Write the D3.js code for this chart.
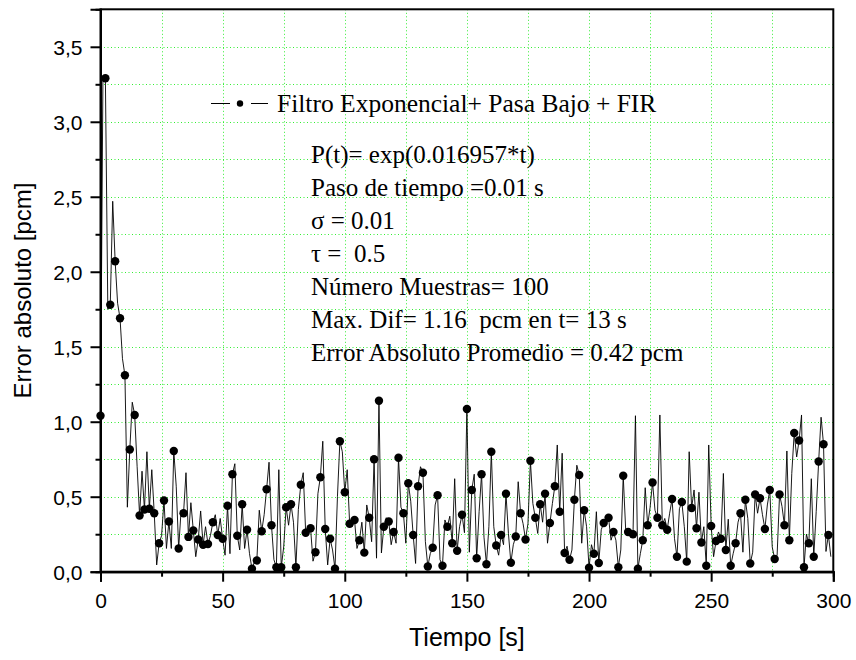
<!DOCTYPE html>
<html><head><meta charset="utf-8">
<script src="https://cdn.jsdelivr.net/npm/d3@7"></script>
<style>body{margin:0;background:#fff}</style>
</head><body><svg id="c" width="856" height="660"></svg>
<script>
// values at t = 0,2,4,...,298 s (drawn with markers)
const dotValues = [
 1.04, 3.29, 1.78, 2.07, 1.69, 1.31, 0.815, 1.045, 0.375, 0.415, 0.42, 0.39, 0.19, 0.475, 0.335, 0.805, 0.155, 0.39, 0.232, 0.275, 0.215, 0.18, 0.185, 0.33, 0.245,
 0.22, 0.44, 0.65, 0.24, 0.45, 0.28, 0.02, 0.075, 0.27, 0.55, 0.31, 0.03, 0.03, 0.43, 0.45, 0.03, 0.58, 0.26, 0.29, 0.13, 0.63, 0.285, 0.22, 0.02, 0.87,
 0.53, 0.32, 0.345, 0.21, 0.127, 0.36, 0.75, 1.14, 0.30, 0.335, 0.265, 0.76, 0.39, 0.59, 0.245, 0.57, 0.66, 0.035, 0.16, 0.51, 0.04, 0.30, 0.19, 0.14,
 0.38, 1.085, 0.545, 0.09, 0.65, 0.05, 0.80, 0.175, 0.245, 0.52, 0.06, 0.235, 0.39, 0.215, 0.74, 0.36, 0.45, 0.52, 0.325, 0.57, 0.40, 0.125, 0.08, 0.48, 0.645,
 0.41, 0.027, 0.12, 0.058, 0.325, 0.36, 0.265, 0.03, 0.64, 0.265, 0.25, 0.02, 0.21, 0.31, 0.595, 0.36, 0.31, 0.28, 0.485, 0.10, 0.465, 0.067, 0.425, 0.29,
 0.195, 0.04, 0.305, 0.205, 0.22, 0.145, 0.04, 0.19, 0.39, 0.48, 0.055, 0.515, 0.49, 0.285, 0.545, 0.085, 0.515, 0.31, 0.21, 0.925, 0.875, 0.03, 0.19, 0.10, 0.735, 0.85, 0.245
];
// values at t = 1,3,5,...,299 s (line only)
const midValues = [
 3.30, 1.75, 2.47, 1.79, 1.42, 0.43, 1.13, 0.70, 0.67, 0.80, 0.68, 0.045, 0.24, 0.155, 0.155, 0.57, 0.41, 0.66, 0.46, 0.10, 0.405, 0.30, 0.24, 0.38, 0.355,
 0.11, 0.12, 0.72, 0.145, 0.155, 0.12, 0.065, 0.41, 0.38, 0.73, 0.08, 0.68, 0.165, 0.31, 0.33, 0.415, 0.66, 0.30, 0.07, 0.52, 0.87, 0.045, 0.145, 0.50,
 0.80, 0.68, 0.30, 0.155, 0.33, 0.445, 0.20, 0.09, 0.125, 0.36, 0.18, 0.19, 0.43, 0.19, 0.47, 0.055, 0.70, 0.20, 0.12, 0.445, 0.08, 0.345, 0.37, 0.62,
 0.30, 0.26, 0.13, 0.65, 0.40, 0.23, 0.30, 0.30, 0.11, 0.18, 0.255, 0.18, 0.60, 0.32, 0.32, 0.455, 0.255, 0.33, 0.19, 0.455, 0.845, 0.79, 0.17, 0.145, 0.71,
 0.19, 0.30, 0.18, 0.40, 0.28, 0.32, 0.21, 0.21, 0.145, 0.28, 0.23, 1.04, 0.12, 0.56, 0.43, 0.41, 1.045, 0.355, 0.39, 0.22, 0.42, 0.30, 0.80, 0.545,
 0.53, 0.30, 0.845, 0.10, 0.265, 0.655, 0.35, 0.12, 0.33, 0.13, 0.355, 0.13, 0.39, 0.38, 0.445, 0.165, 0.11, 0.435, 0.805, 0.655, 0.765, 1.045, 0.25, 0.62, 0.40, 1.03, 0.135, 0.10
];
const xMajorTicks = [0, 50, 100, 150, 200, 250, 300];
const xMinorTicks = [25, 75, 125, 175, 225, 275];
const yMajorTicks = [0, 0.5, 1.0, 1.5, 2.0, 2.5, 3.0, 3.5];
const yMinorTicks = [0.25, 0.75, 1.25, 1.75, 2.25, 2.75, 3.25];
const yTickLabels = ["0,0", "0,5", "1,0", "1,5", "2,0", "2,5", "3,0", "3,5"];
const xTitle = "Tiempo [s]";
const yTitle = "Error absoluto [pcm]";
const legendLabel = "Filtro Exponencial+ Pasa Bajo + FIR";
const infoLines = [
 "P(t)= exp(0.016957*t)",
 "Paso de tiempo =0.01 s",
 "\u03c3 = 0.01",
 "\u03c4 =  0.5",
 "N\u00famero Muestras= 100",
 "Max. Dif= 1.16  pcm en t= 13 s",
 "Error Absoluto Promedio = 0.42 pcm"
];

const L = 100.5, R = 833.3, T = 9.3, B = 571.7;
const x = d3.scaleLinear().domain([0, 300]).range([L, R]);
const y = d3.scaleLinear().domain([0, 3.75]).range([B, T]);
const svg = d3.select("#c");
const sans = "'Liberation Sans', Arial, sans-serif";
const serif = "'Liberation Serif', 'Times New Roman', serif";

// series
const lineData = [];
dotValues.forEach((v, i) => {
  lineData.push({t: 2 * i, v: v});
  if (i < midValues.length) lineData.push({t: 2 * i + 1, v: midValues[i]});
});
const dotData = dotValues.map((v, i) => ({t: 2 * i, v: v}));

// grid
const grid = svg.append("g").attr("stroke", "#33ee33").attr("stroke-width", 1).attr("stroke-dasharray", "1,2.5");
xMajorTicks.concat(xMinorTicks).filter(t => t > 0 && t < 300).forEach(t => {
  grid.append("line").attr("x1", Math.round(x(t)) + 0.5).attr("x2", Math.round(x(t)) + 0.5).attr("y1", T).attr("y2", B);
});
yMajorTicks.concat(yMinorTicks).filter(v => v > 0).forEach(v => {
  grid.append("line").attr("y1", Math.round(y(v)) + 0.5).attr("y2", Math.round(y(v)) + 0.5).attr("x1", L).attr("x2", R);
});

// data
svg.append("path").datum(lineData)
  .attr("fill", "none").attr("stroke", "#000").attr("stroke-width", 0.9)
  .attr("d", d3.line().x(d => x(d.t)).y(d => y(d.v)));
svg.append("g").selectAll("circle").data(dotData).join("circle")
  .attr("cx", d => x(d.t)).attr("cy", d => y(d.v)).attr("r", 4.2).attr("fill", "#000");

// frame
svg.append("rect").attr("x", L).attr("y", T).attr("width", R - L).attr("height", B - T)
  .attr("fill", "none").attr("stroke", "#000").attr("stroke-width", 2);

// axes
const xAxis = svg.append("g").attr("transform", `translate(0,${B})`)
  .call(d3.axisBottom(x).tickValues(xMajorTicks).tickSize(10).tickFormat(d => d));
const xAxisMinor = svg.append("g").attr("transform", `translate(0,${B})`)
  .call(d3.axisBottom(x).tickValues(xMinorTicks).tickSize(5).tickFormat(""));
const yAxis = svg.append("g").attr("transform", `translate(${L},0)`)
  .call(d3.axisLeft(y).tickValues(yMajorTicks).tickSize(10).tickFormat((d, i) => yTickLabels[i]));
const yAxisMinor = svg.append("g").attr("transform", `translate(${L},0)`)
  .call(d3.axisLeft(y).tickValues(yMinorTicks).tickSize(5).tickFormat(""));
[xAxis, xAxisMinor, yAxis, yAxisMinor].forEach(g => {
  g.select(".domain").attr("stroke", "#000").attr("stroke-width", 2);
  g.selectAll(".tick line").attr("stroke", "#000").attr("stroke-width", 2);
  g.selectAll(".tick text").attr("fill", "#000").attr("font-family", sans).attr("font-size", 21);
});
xAxis.selectAll(".tick text").attr("y", 21).attr("dy", "0.71em");
yAxis.selectAll(".tick text").attr("x", -18).attr("dy", "0.35em");

// titles
svg.append("text").attr("x", (L + R) / 2).attr("y", 646).attr("text-anchor", "middle")
  .attr("font-family", sans).attr("font-size", 25).text(xTitle);
svg.append("text").attr("transform", `translate(31,${(T + B) / 2}) rotate(-90)`).attr("text-anchor", "middle")
  .attr("font-family", sans).attr("font-size", 24).text(yTitle);

// legend
const lg = svg.append("g");
lg.append("line").attr("x1", 211).attr("x2", 230).attr("y1", 103.5).attr("y2", 103.5).attr("stroke", "#000").attr("stroke-width", 1);
lg.append("line").attr("x1", 251).attr("x2", 268).attr("y1", 103.5).attr("y2", 103.5).attr("stroke", "#000").attr("stroke-width", 1);
lg.append("circle").attr("cx", 240).attr("cy", 103.5).attr("r", 3.2).attr("fill", "#000");
lg.append("text").attr("x", 277).attr("y", 112).attr("font-family", serif).attr("font-size", 25.5).text(legendLabel);

// annotation
svg.append("g").selectAll("text").data(infoLines).join("text")
  .attr("x", 311).attr("y", (d, i) => 163 + i * 33)
  .attr("font-family", serif).attr("font-size", 25)
  .style("white-space", "pre").attr("xml:space", "preserve")
  .text(d => d);
</script>
</body></html>
